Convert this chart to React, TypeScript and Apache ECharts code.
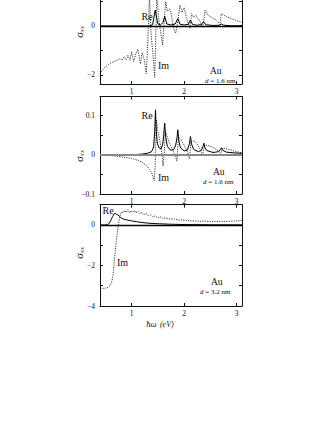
import React, { useEffect, useRef } from "react";
import * as echarts from "echarts";

// ---------- data ----------
const xTicks = [1, 2, 3];

// Panel 1 (d = 1.6 nm)
const p1ReX = [0.4, 1.0, 1.35, 1.4, 1.45, 1.5, 1.55, 1.6, 1.63, 1.67, 1.75, 1.83, 1.88, 1.92, 2.0, 2.08, 2.12, 2.16, 2.25, 2.33, 2.37, 2.41, 2.55, 2.67, 2.71, 2.75, 2.9, 3.1];
const p1ReY = [0, 0, 0, 0.05, 0.65, 0.08, 0.04, 0.15, 0.4, 0.08, 0.04, 0.08, 0.3, 0.07, 0.04, 0.07, 0.24, 0.06, 0.03, 0.06, 0.18, 0.05, 0.02, 0.03, 0.08, 0.03, 0.01, 0.01];
const p1ImX = [0.4, 0.45, 0.5, 0.55, 0.6, 0.65, 0.7, 0.75, 0.78, 0.82, 0.86, 0.9, 0.93, 0.97, 1.0, 1.04, 1.08, 1.12, 1.17, 1.2, 1.24, 1.28, 1.31, 1.34, 1.37, 1.41, 1.44, 1.46, 1.48, 1.51, 1.55, 1.59, 1.62, 1.65, 1.68, 1.72, 1.75, 1.8, 1.84, 1.88, 1.92, 1.96, 2.0, 2.04, 2.08, 2.11, 2.14, 2.18, 2.22, 2.26, 2.3, 2.35, 2.38, 2.4, 2.45, 2.5, 2.55, 2.6, 2.65, 2.68, 2.71, 2.75, 2.8, 2.9, 3.0, 3.1];
const p1ImY = [-1.95, -1.8, -1.68, -1.6, -1.52, -1.47, -1.42, -1.38, -1.33, -1.4, -1.25, -1.38, -1.2, -1.4, -1.05, -1.45, -1.15, -0.95, -1.55, -1.1, -1.35, -1.95, -0.6, 1.3, -0.3, -1.2, -2.1, -0.5, 1.4, 0.4, -0.2, -0.78, 0.2, 1.0, 0.6, 0.7, 0.55, -0.1, -0.3, 0.2, 0.85, 0.55, 0.75, 0.35, 0.1, -0.1, 0.5, 0.35, 0.45, 0.3, 0.2, -0.05, 0.3, 0.65, 0.45, 0.38, 0.3, 0.25, 0.15, 0.05, 0.5, 0.45, 0.38, 0.3, 0.22, 0.15];

// Panel 2 (d = 1.6 nm)
const p2ReX = [0.4, 1.0, 1.2, 1.3, 1.38, 1.42, 1.44, 1.455, 1.47, 1.49, 1.52, 1.56, 1.59, 1.61, 1.63, 1.65, 1.68, 1.74, 1.8, 1.84, 1.865, 1.88, 1.9, 1.93, 2.0, 2.06, 2.1, 2.12, 2.14, 2.18, 2.27, 2.33, 2.36, 2.375, 2.39, 2.43, 2.55, 2.65, 2.69, 2.71, 2.73, 2.8, 2.95, 3.1];
const p2ReY = [0, 0, 0.002, 0.004, 0.008, 0.02, 0.06, 0.115, 0.06, 0.03, 0.018, 0.015, 0.025, 0.05, 0.081, 0.045, 0.022, 0.012, 0.013, 0.025, 0.045, 0.064, 0.035, 0.018, 0.01, 0.012, 0.028, 0.047, 0.028, 0.014, 0.008, 0.012, 0.022, 0.03, 0.02, 0.011, 0.006, 0.008, 0.014, 0.018, 0.012, 0.007, 0.005, 0.004];
const p2ImX = [0.4, 0.5, 0.6, 0.7, 0.8, 0.9, 1.0, 1.1, 1.2, 1.28, 1.34, 1.38, 1.41, 1.43, 1.445, 1.455, 1.47, 1.5, 1.54, 1.57, 1.6, 1.625, 1.64, 1.67, 1.72, 1.79, 1.84, 1.86, 1.875, 1.89, 1.93, 2.0, 2.07, 2.1, 2.115, 2.13, 2.2, 2.26, 2.32, 2.35, 2.365, 2.39, 2.45, 2.53, 2.62, 2.68, 2.7, 2.72, 2.76, 2.88, 3.0, 3.1];
const p2ImY = [0, -0.001, -0.002, -0.003, -0.005, -0.007, -0.009, -0.013, -0.019, -0.027, -0.037, -0.046, -0.057, -0.066, -0.04, 0.0, 0.09, 0.06, 0.035, 0.01, -0.029, 0.01, 0.06, 0.05, 0.03, 0.01, -0.005, -0.016, 0.01, 0.045, 0.04, 0.025, 0.005, -0.01, 0.01, 0.035, 0.035, 0.025, 0.01, -0.004, 0.01, 0.025, 0.024, 0.02, 0.013, 0.006, 0.004, 0.016, 0.017, 0.013, 0.008, 0.005];

// Panel 3 (d = 3.2 nm)
const p3ReX = [0.4, 0.5, 0.55, 0.58, 0.61, 0.64, 0.67, 0.69, 0.71, 0.74, 0.77, 0.81, 0.86, 0.91, 1.0, 1.1, 1.2, 1.35, 1.5, 1.7, 2.0, 2.5, 3.1];
const p3ReY = [0, 0, 0.02, 0.1, 0.25, 0.42, 0.55, 0.58, 0.52, 0.5, 0.42, 0.33, 0.28, 0.25, 0.2, 0.16, 0.12, 0.08, 0.06, 0.04, 0.02, 0.01, 0.005];
const p3ImX = [0.4, 0.45, 0.5, 0.55, 0.59, 0.62, 0.64, 0.66, 0.67, 0.69, 0.71, 0.73, 0.75, 0.77, 0.79, 0.81, 0.84, 0.87, 0.9, 0.93, 0.96, 0.99, 1.02, 1.05, 1.08, 1.12, 1.16, 1.2, 1.24, 1.28, 1.32, 1.36, 1.4, 1.45, 1.5, 1.55, 1.6, 1.65, 1.7, 1.8, 1.9, 2.0, 2.1, 2.2, 2.3, 2.4, 2.5, 2.6, 2.7, 2.8, 2.9, 3.0, 3.1];
const p3ImY = [-3.15, -3.13, -3.12, -3.08, -3.0, -2.85, -2.6, -2.2, -1.8, -1.3, -0.8, -0.35, 0.05, 0.35, 0.55, 0.65, 0.6, 0.72, 0.62, 0.75, 0.6, 0.7, 0.62, 0.72, 0.6, 0.68, 0.55, 0.62, 0.5, 0.58, 0.45, 0.5, 0.4, 0.45, 0.35, 0.4, 0.32, 0.35, 0.3, 0.3, 0.25, 0.24, 0.21, 0.2, 0.18, 0.19, 0.17, 0.17, 0.18, 0.17, 0.19, 0.2, 0.22];

const yRanges = [
  { min: -2.37, max: 1.06, ticks: [-2, -1, 0, 1], labels: [-2, 0] },
  { min: -0.1, max: 0.149, ticks: [-0.1, -0.05, 0, 0.05, 0.1], labels: [-0.1, 0, 0.1] },
  { min: -4, max: 1, ticks: [-4, -3, -2, -1, 0, 1], labels: [-4, -2, 0] },
];
const sizeLabels = ["1.6", "1.6", "3.2"];

const zip = (xs: number[], ys: number[]) => xs.map((x, i) => [x, ys[i]]);

const FONT = "Liberation Serif";
const INK = "#111";

const grids = [
  { left: 100, width: 142, top: 0, height: 84 },
  { left: 100, width: 142, top: 96.5, height: 97.5 },
  { left: 100, width: 142, top: 204.7, height: 101.3 },
];

const fmt = (v: number) => (v < 0 ? "\u2212" + String(Math.abs(v)) : String(v));

export default function App() {
  const ref = useRef<HTMLDivElement>(null);
  useEffect(() => {
    if (!ref.current) return;
    const chart = echarts.init(ref.current, undefined, { renderer: "svg" });
    const lineStyle = { color: INK, width: 1 };
    const xAxis: any[] = [];
    const yAxis: any[] = [];
    grids.forEach((_, i) => {
      xAxis.push({
        type: "value", gridIndex: i, min: 0.4, max: 3.1, position: "bottom",
        axisLine: { show: true, onZero: false, lineStyle },
        axisTick: { show: true, inside: true, length: 3, customValues: xTicks, lineStyle },
        axisLabel: { show: true, customValues: xTicks, fontSize: 7.5, fontFamily: FONT, color: INK, margin: 3 },
        splitLine: { show: false },
      });
      if (i > 0) {
        xAxis.push({
          type: "value", gridIndex: i, min: 0.4, max: 3.1, position: "top",
          axisLine: { show: true, onZero: false, lineStyle },
          axisTick: { show: true, inside: true, length: 3, customValues: xTicks, lineStyle },
          axisLabel: { show: false },
          splitLine: { show: false },
        });
      }
      const r = yRanges[i];
      yAxis.push({
        type: "value", gridIndex: i, min: r.min, max: r.max, position: "left",
        axisLine: { show: true, onZero: false, lineStyle },
        axisTick: { show: true, inside: true, length: 3, customValues: r.ticks, lineStyle },
        axisLabel: { show: true, customValues: r.labels, fontSize: 7.5, fontFamily: FONT, color: INK, margin: 5, formatter: fmt },
        splitLine: { show: false },
      });
      yAxis.push({
        type: "value", gridIndex: i, min: r.min, max: r.max, position: "right",
        axisLine: { show: true, onZero: false, lineStyle },
        axisTick: { show: true, inside: true, length: 3, customValues: r.ticks, lineStyle },
        axisLabel: { show: false },
        splitLine: { show: false },
      });
    });
    const xIdx = [0, 1, 3];
    const yIdx = [0, 2, 4];
    const reData = [zip(p1ReX, p1ReY), zip(p2ReX, p2ReY), zip(p3ReX, p3ReY)];
    const imData = [zip(p1ImX, p1ImY), zip(p2ImX, p2ImY), zip(p3ImX, p3ImY)];
    const series: any[] = [];
    for (let i = 0; i < 3; i++) {
      series.push({
        type: "line", name: "Im" + i, xAxisIndex: xIdx[i], yAxisIndex: yIdx[i],
        data: imData[i], showSymbol: false, symbol: "none", clip: true,
        lineStyle: { color: "#222", width: 0.9, type: [1.2, 1.2] },
      });
      series.push({
        type: "line", name: "Re" + i, xAxisIndex: xIdx[i], yAxisIndex: yIdx[i],
        data: reData[i], showSymbol: false, symbol: "none", clip: true,
        lineStyle: { color: "#000", width: 1 },
        markLine: {
          silent: true, symbol: "none", label: { show: false },
          lineStyle: { color: i === 1 ? "#888" : "#000", width: i === 1 ? 1.8 : 1.3, type: "solid" },
          data: [{ yAxis: 0 }],
        },
      });
    }
    const txt = (text: string, x: number, y: number, size: number, rich?: any) => ({
      type: "text", x, y, silent: true,
      style: { text, fontSize: size, fontFamily: FONT, fill: INK, textVerticalAlign: "middle", verticalAlign: "middle", rich },
    });
    const dRich = {
      i: { fontStyle: "italic", fontSize: 7, fontFamily: FONT, fill: INK },
      n: { fontSize: 7, fontFamily: FONT, fill: INK },
    };
    const sigRich = {
      s: { fontSize: 11, fontFamily: FONT, fill: INK },
      b: { fontSize: 7, fontStyle: "italic", fontFamily: FONT, fill: INK, padding: [5, 0, 0, 0] },
    };
    const labelPos = [
      { re: [141.5, 16], im: [158, 65], au: [210, 71], d: [205, 80.5], sig: 32 },
      { re: [141.5, 115], im: [158, 177], au: [213, 172], d: [203, 182], sig: 156 },
      { re: [102.5, 210], im: [117, 262], au: [211, 282], d: [200, 291.5], sig: 253 },
    ];
    const graphic: any[] = [];
    labelPos.forEach((p, i) => {
      graphic.push(txt("Re", p.re[0], p.re[1], 10));
      graphic.push(txt("Im", p.im[0], p.im[1], 10));
      graphic.push(txt("Au", p.au[0], p.au[1], 9.5));
      graphic.push(txt("{i|d}{n| = " + sizeLabels[i] + " nm}", p.d[0], p.d[1], 7, dRich));
      graphic.push({
        type: "text", x: 79, y: p.sig, rotation: Math.PI / 2, silent: true,
        style: { text: "{s|\u03c3}{b|xx}", rich: sigRich, fill: INK, textAlign: "center", align: "center", textVerticalAlign: "middle", verticalAlign: "middle" },
      });
    });
    graphic.push({
      type: "text", x: 160, y: 324, silent: true,
      style: {
        text: "{i|\u0127\u03c9} {n|(eV)}", textAlign: "center", align: "center", textVerticalAlign: "middle", verticalAlign: "middle",
        rich: {
          i: { fontStyle: "italic", fontSize: 8.5, fontFamily: FONT, fill: INK },
          n: { fontStyle: "italic", fontSize: 8, fontFamily: FONT, fill: INK },
        },
      },
    });
    chart.setOption({
      animation: false,
      backgroundColor: "#fff",
      grid: grids.map((g) => ({ ...g, containLabel: false })),
      xAxis, yAxis, series, graphic,
    });
    return () => chart.dispose();
  }, []);
  return <div ref={ref} style={{ position: "absolute", left: 0, top: 0, width: 332, height: 430 }} />;
}
